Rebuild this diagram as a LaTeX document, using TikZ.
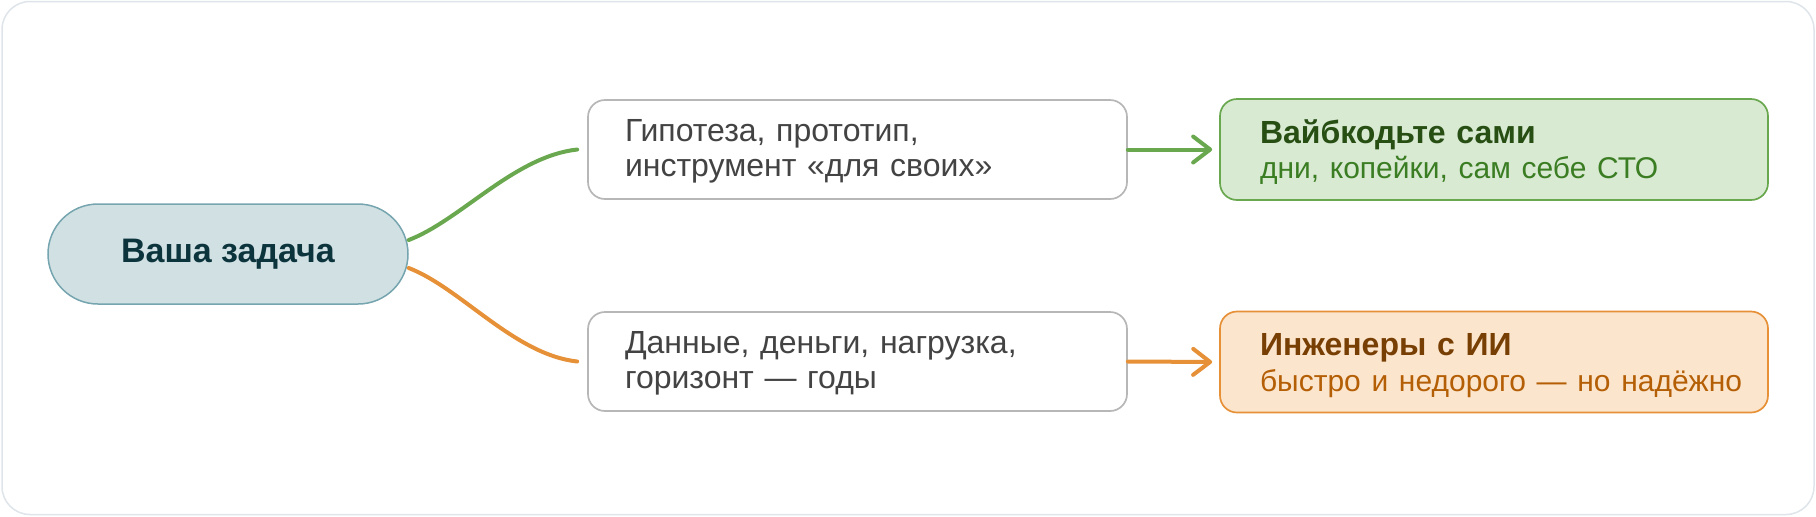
\documentclass[tikz,border=0pt]{standalone}
\usepackage{fontspec}
\setmainfont{Liberation Sans}
\usetikzlibrary{arrows.meta}

\definecolor{framegray}{HTML}{DFE4EA}
\definecolor{hubfill}{HTML}{D0E0E3}
\definecolor{hubline}{HTML}{76A5AF}
\definecolor{hubtext}{HTML}{0C343D}
\definecolor{condline}{HTML}{B7B7B7}
\definecolor{condtext}{HTML}{434343}
\definecolor{vibefill}{HTML}{D9EAD3}
\definecolor{vibeline}{HTML}{6AA84F}
\definecolor{vibehead}{HTML}{274E13}
\definecolor{vibetext}{HTML}{3A7D22}
\definecolor{engfill}{HTML}{FCE5CD}
\definecolor{engline}{HTML}{E69138}
\definecolor{enghead}{HTML}{783F04}
\definecolor{engtext}{HTML}{B45F06}

\begin{document}
\begin{tikzpicture}[x=0.5pt,y=0.5pt]
\tikzstyle{every node}+=[inner sep=0pt]
\tikzstyle{hub}=[draw=hubline, fill=hubfill, line width=0.75pt, rounded corners=25pt, minimum width=180pt, minimum height=50pt, text=hubtext, font=\fontsize{17}{20}\selectfont\bfseries]
\tikzstyle{cond}=[draw=condline, fill=white, line width=0.85pt, rounded corners=8.5pt, minimum height=49.5pt, text width=232.5pt, inner xsep=18.5pt, align=left, text=condtext, font=\fontsize{16}{17.8}\selectfont]
\tikzstyle{verdict}=[line width=0.85pt, rounded corners=8.5pt, minimum height=50.5pt, text width=234pt, inner xsep=20pt, align=left, font=\fontsize{16}{17.9}\selectfont]
\tikzstyle{branch}=[line width=2pt, line cap=round]
\tikzstyle{flow}=[line width=2pt, line cap=round, shorten >=3.5pt, -{Straight Barb[length=8.5pt,width=13pt,round]}]

\useasboundingbox (0,0) rectangle (1816,-516);
\draw [framegray, line width=0.75pt, rounded corners=14pt] (2,-1.5) rectangle (1814,-514.5);

\node [hub] (task) at (228,-254) {Ваша задача};
\node [cond] (proto) at (857.5,-149.5) {\rule{0pt}{13pt}Гипотеза, прототип,\\инструмент «для своих»};
\node [cond] (prod) at (857.5,-361.5) {\rule{0pt}{13pt}Данные, деньги, нагрузка,\\горизонт — годы};
\node [verdict, draw=vibeline, fill=vibefill] (self) at (1494,-149.5)
  {\rule{0pt}{14.5pt}{\color{vibehead}\bfseries Вайбкодьте сами}\\{\color{vibetext}\fontsize{15}{17.9}\selectfont\mbox{дни, копейки, сам себе СТО}}};
\node [verdict, draw=engline, fill=engfill] (team) at (1494,-362)
  {\rule{0pt}{14.5pt}{\color{enghead}\bfseries Инженеры с ИИ}\\{\color{engtext}\fontsize{15}{17.9}\selectfont\mbox{быстро и недорого — но надёжно}}};

\draw [branch, vibeline] ([yshift=7pt]task.east) .. controls +(52,20) and +(-63,-7) .. ([xshift=-5pt]proto.west);
\draw [branch, engline] ([yshift=-7pt]task.east) .. controls +(52,-20) and +(-63,7) .. ([xshift=-5pt]prod.west);
\draw [flow, vibeline] (proto.east) -- (self.west);
\draw [flow, engline] (prod.east) -- (team.west);
\end{tikzpicture}
\end{document}
